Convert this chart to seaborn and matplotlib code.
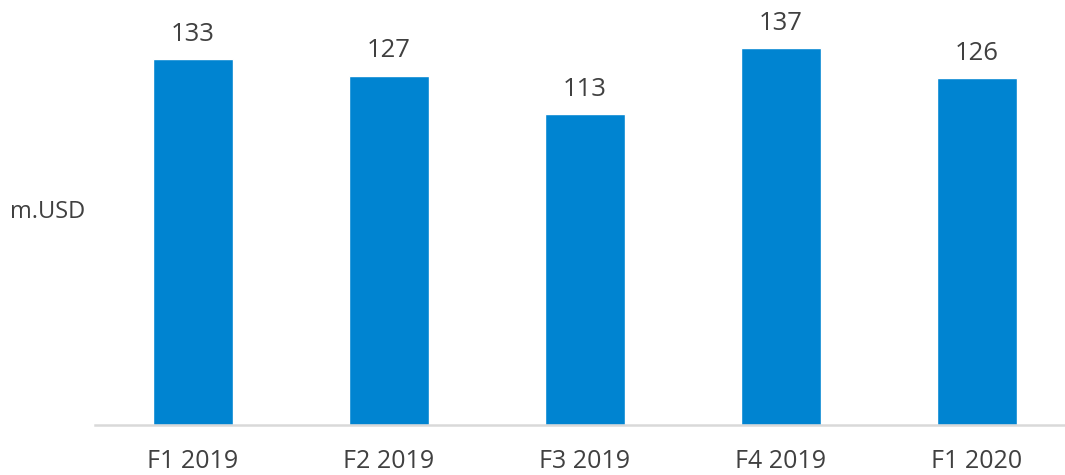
import pandas as pd
import seaborn as sns
import matplotlib.pyplot as plt

# values
periods = ["F1 2019", "F2 2019", "F3 2019", "F4 2019", "F1 2020"]
revenue = [133, 127, 113, 137, 126]
unit_label = "m.USD"

df = pd.DataFrame({"Period": periods, "Revenue": revenue})

sns.set_theme(style="white")
plt.rcParams['font.family'] = ['Open Sans', 'DejaVu Sans']

fig = plt.figure(figsize=(10.65, 4.75), dpi=100)
ax = fig.add_axes([95 / 1065, 50 / 475, 980 / 1065, 425 / 475])

sns.barplot(data=df, x="Period", y="Revenue", color="#0084D1",
            width=0.408, saturation=1, ax=ax)

ax.set_ylim(0, 154.5)
ax.set_xlim(-0.5, 4.5)
ax.bar_label(ax.containers[0], fmt="%d", padding=9, fontsize=18.5, color="#404040")

ax.set_xlabel("")
ax.set_ylabel("")
ax.set_yticks([])
ax.tick_params(axis="x", length=0, pad=17, labelsize=18, labelcolor="#404040")
for side in ["top", "right", "left"]:
    ax.spines[side].set_visible(False)
ax.spines["bottom"].set_color("#d9d9d9")
ax.spines["bottom"].set_linewidth(1.8)

fig.text(10 / 1065, 1 - 212 / 475, unit_label, fontsize=17, color="#404040",
         va="center", ha="left")

fig.savefig("out.png", dpi=100)
